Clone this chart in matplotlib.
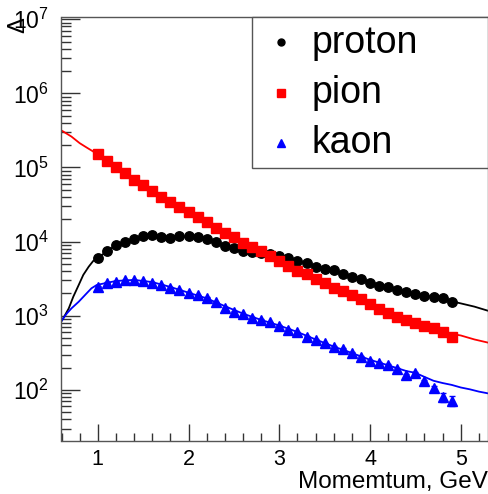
import matplotlib
matplotlib.use("Agg")
import matplotlib.pyplot as plt
from matplotlib.patches import Rectangle
from matplotlib.ticker import FixedLocator, FixedFormatter, MultipleLocator, NullFormatter

plt.rcParams["font.family"] = ["Liberation Sans", "DejaVu Sans"]
plt.rcParams["mathtext.fontset"] = "custom"
plt.rcParams["mathtext.rm"] = "Liberation Sans"
plt.rcParams["mathtext.it"] = "Liberation Sans"
plt.rcParams["mathtext.default"] = "regular"

# ---- measured yields per 0.1 GeV momentum bin ----
momentum = [1.0, 1.1, 1.2, 1.3, 1.4, 1.5, 1.6, 1.7, 1.8, 1.9,
            2.0, 2.1, 2.2, 2.3, 2.4, 2.5, 2.6, 2.7, 2.8, 2.9,
            3.0, 3.1, 3.2, 3.3, 3.4, 3.5, 3.6, 3.7, 3.8, 3.9,
            4.0, 4.1, 4.2, 4.3, 4.4, 4.5, 4.6, 4.7, 4.8, 4.9]

proton = [6030, 7430, 9030, 9910, 10700, 11900, 12200, 11700, 11300, 11900,
          11900, 11600, 10900, 10000, 8840, 8150, 7570, 7330, 6980, 6830,
          6410, 5970, 5500, 5120, 4600, 4250, 4090, 3640, 3370, 3110,
          2800, 2550, 2430, 2230, 2080, 1970, 1870, 1810, 1730, 1550]

pion = [151000, 123000, 103000, 83700, 68000, 58200, 48800, 40500, 34000, 29100,
        25400, 21700, 18600, 15500, 13200, 11400, 9520, 8350, 7500, 6410,
        5500, 4710, 4060, 3640, 3140, 2750, 2400, 2160, 1910, 1670,
        1450, 1240, 1080, 975, 879, 794, 730, 679, 600, 519]

kaon = [2470, 2800, 2890, 3050, 3050, 2950, 2800, 2610, 2400, 2230,
        2020, 1880, 1760, 1520, 1290, 1140, 1050, 945, 879, 818,
        736, 645, 600, 524, 472, 427, 378, 354, 319, 276,
        248, 233, 217, 190, 159, 171, 132, 105, 80, 71]

kaon_err = [20, 22, 23, 24, 24, 24, 23, 22, 21, 20,
            19, 18, 18, 16, 15, 14, 14, 13, 13, 12,
            12, 11, 11, 10, 10, 9, 9, 9, 8, 8,
            7, 7, 7, 6, 6, 6, 6, 7, 12, 11]

# ---- fitted spectra ----
proton_fit_p = [0.6, 0.62, 0.68, 0.73, 0.79, 0.84, 0.9, 0.95, 1.0, 1.2, 1.4, 1.6,
                1.8, 2.0, 2.2, 2.4, 2.6, 2.8, 3.0, 3.2, 3.4, 3.6, 3.8, 4.0,
                4.2, 4.4, 4.6, 4.8, 4.9, 5.0, 5.15, 5.3]
proton_fit = [850, 927, 1260, 1810, 2610, 3560, 4600, 5500, 6050, 9000, 10800, 11700,
              11700, 11500, 10800, 9000, 7700, 7000, 6400, 5500, 4700, 4050, 3400, 2850,
              2450, 2100, 1880, 1700, 1570, 1470, 1330, 1170]

pion_fit_p = [0.6, 0.62, 0.71, 0.8, 0.88, 0.95, 1.0, 1.2, 1.4, 1.6, 1.8, 2.0,
              2.2, 2.4, 2.6, 2.8, 3.0, 3.2, 3.4, 3.6, 3.8, 4.0, 4.2, 4.4,
              4.6, 4.8, 4.9, 5.0, 5.15, 5.3]
pion_fit = [315000, 305000, 261000, 213000, 185000, 164000, 152000, 103000, 69000, 49000, 34500, 25500,
            18600, 13300, 9600, 7500, 5500, 4100, 3150, 2400, 1900, 1450, 1080, 880,
            730, 600, 570, 543, 480, 435]

kaon_fit_p = [0.6, 0.62, 0.66, 0.71, 0.79, 0.86, 0.93, 0.99, 1.2, 1.4, 1.6, 1.8,
              2.0, 2.2, 2.4, 2.6, 2.8, 3.0, 3.2, 3.4, 3.6, 3.8, 4.0, 4.2,
              4.4, 4.5, 4.6, 4.7, 4.8, 4.9, 5.0, 5.1, 5.2, 5.3]
kaon_fit = [850, 927, 1080, 1260, 1550, 1910, 2350, 2610, 2950, 3050, 2850, 2450,
            2050, 1720, 1350, 1070, 880, 740, 605, 480, 385, 315, 255, 215,
            180, 170, 150, 133, 124, 117, 108, 102, 95, 90]

colors = {"proton": "black", "pion": "#ff0000", "kaon": "#0000ff"}

fig = plt.figure(figsize=(4.89, 4.94), dpi=100)
ax = fig.add_axes([61.5 / 489, 53 / 494, 426.5 / 489, 424 / 494])

ax.set_yscale("log")
ax.set_xlim(0.6, 5.3)
ax.set_ylim(20.5, 1.07e7)

lw_fit = 1.3
ax.plot(proton_fit_p, proton_fit, color=colors["proton"], lw=lw_fit, zorder=2)
ax.plot(pion_fit_p, pion_fit, color=colors["pion"], lw=lw_fit, zorder=2)
ax.plot(kaon_fit_p, kaon_fit, color=colors["kaon"], lw=lw_fit, zorder=2)

ax.plot(momentum, proton, ls="none", marker="o", ms=6.8, mfc="black", mec="black",
        zorder=3)
ax.plot(momentum, pion, ls="none", marker="s", ms=7.4, mfc="#ff0000", mec="#ff0000",
        zorder=4)
ax.errorbar(momentum, kaon, yerr=kaon_err, ls="none", marker="^", ms=7.2,
            mfc="#0000ff", mec="#0000ff", ecolor="#0000ff", elinewidth=1.0,
            capsize=2.5, capthick=1.0, zorder=5)

# axes styling
for side in ["left", "bottom", "top", "right"]:
    ax.spines[side].set_color("#555555")
    ax.spines[side].set_linewidth(1.0)

ax.xaxis.set_minor_locator(MultipleLocator(0.2))
ax.set_xticks([1, 2, 3, 4, 5])
ax.set_xticklabels(["1", "2", "3", "4", "5"])

ydec = [1e2, 1e3, 1e4, 1e5, 1e6, 1e7]
ylab = [r"$10^{2}$", r"$10^{3}$", r"$10^{4}$", r"$10^{5}$", r"$10^{6}$", r"$10^{7}$"]
ax.yaxis.set_major_locator(FixedLocator(ydec))
ax.yaxis.set_major_formatter(FixedFormatter(ylab))
yminor = [m * 10 ** e for e in range(1, 7) for m in range(2, 10)]
ax.yaxis.set_minor_locator(FixedLocator(yminor))
ax.yaxis.set_minor_formatter(NullFormatter())

ax.tick_params(axis="both", which="both", direction="in", top=False, right=False,
               color="#333333", width=1.0)
ax.tick_params(axis="x", which="major", length=12, pad=6, labelsize=15.5)
ax.tick_params(axis="x", which="minor", length=6)
ax.tick_params(axis="y", which="major", length=14, pad=9, labelsize=16.5)
ax.tick_params(axis="y", which="minor", length=7)

# axis titles
fig.text(488 / 489, 1 - 488 / 494, "Momemtum, GeV", ha="right", va="baseline",
         fontsize=17.5)
fig.text(18 / 489, 1 - 25 / 494, "Δ", rotation=90, ha="center", va="center",
         fontsize=17)

# legend box
ax.add_patch(Rectangle((0.4467, 0.644), 1 - 0.4467, 1 - 0.644, transform=ax.transAxes,
                       facecolor="white", edgecolor="#555555", lw=1.0, zorder=10,
                       clip_on=False))
leg_rows = [("proton", "o", 0.9417, 0.9144, 5.0),
            ("pion", "s", 0.8200, 0.7965, 5.5),
            ("kaon", "^", 0.7021, 0.6785, 5.5)]
for name, mk, ym, yb, ms in leg_rows:
    ax.plot([0.514], [ym], marker=mk, ms=ms, color=colors[name], ls="none",
            transform=ax.transAxes, zorder=11, clip_on=False)
    ax.text(0.5866, yb, name, transform=ax.transAxes, ha="left", va="baseline",
            fontsize=27, zorder=11)

fig.savefig("out.png", dpi=100)
